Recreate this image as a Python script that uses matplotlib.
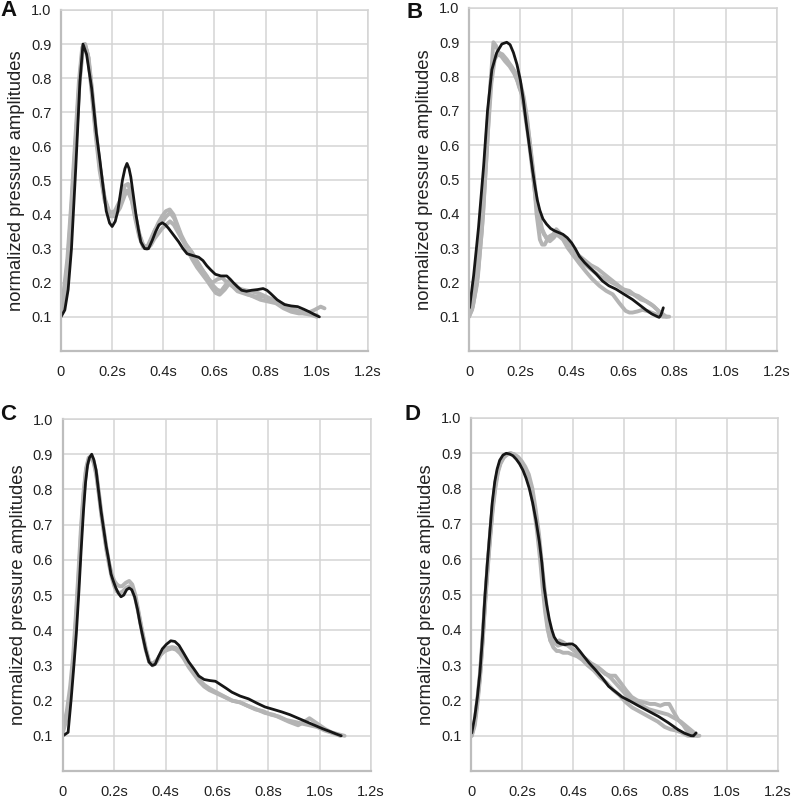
import matplotlib
matplotlib.use("Agg")
import matplotlib.pyplot as plt

plt.rcParams['font.family'] = ['Liberation Sans', 'DejaVu Sans']

# ---------------- data ----------------
# Panel A
a_black_t = [0, 0.015, 0.028, 0.041, 0.058, 0.074, 0.086, 0.10, 0.12, 0.138, 0.152, 0.164, 0.177, 0.19, 0.2, 0.212, 0.222, 0.232, 0.24, 0.25, 0.258, 0.266, 0.273, 0.283, 0.293, 0.303, 0.312, 0.327, 0.342, 0.357, 0.37, 0.383, 0.396, 0.408, 0.42, 0.44, 0.46, 0.477, 0.493, 0.515, 0.538, 0.555, 0.57, 0.585, 0.603, 0.625, 0.648, 0.662, 0.674, 0.69, 0.706, 0.725, 0.745, 0.768, 0.79, 0.805, 0.82, 0.845, 0.874, 0.9, 0.925, 0.95, 0.97, 0.99, 1.01]
a_black_y = [0.1, 0.12, 0.18, 0.3, 0.54, 0.79, 0.9, 0.87, 0.77, 0.64, 0.56, 0.485, 0.41, 0.375, 0.365, 0.38, 0.41, 0.46, 0.5, 0.535, 0.55, 0.535, 0.51, 0.455, 0.4, 0.355, 0.32, 0.3, 0.30, 0.325, 0.35, 0.37, 0.376, 0.37, 0.36, 0.34, 0.32, 0.3, 0.285, 0.28, 0.275, 0.265, 0.25, 0.238, 0.225, 0.22, 0.22, 0.21, 0.2, 0.188, 0.178, 0.175, 0.178, 0.18, 0.183, 0.178, 0.168, 0.15, 0.136, 0.132, 0.13, 0.122, 0.115, 0.107, 0.1]

a_gray1_t = [0, 0.01, 0.025, 0.04, 0.055, 0.07, 0.083, 0.093, 0.105, 0.12, 0.135, 0.15, 0.17, 0.19, 0.21, 0.23, 0.25, 0.262, 0.275, 0.29, 0.305, 0.32, 0.335, 0.35, 0.365, 0.38, 0.395, 0.41, 0.425, 0.44, 0.455, 0.47, 0.49, 0.51, 0.53, 0.55, 0.57, 0.59, 0.61, 0.625, 0.64, 0.655, 0.67, 0.69, 0.71, 0.73, 0.76, 0.79, 0.82, 0.85, 0.88, 0.91, 0.94, 0.97, 1.0]
a_gray1_y = [0.12, 0.17, 0.27, 0.43, 0.61, 0.79, 0.89, 0.9, 0.87, 0.77, 0.65, 0.55, 0.45, 0.405, 0.41, 0.44, 0.485, 0.49, 0.46, 0.40, 0.345, 0.31, 0.30, 0.32, 0.35, 0.375, 0.395, 0.41, 0.415, 0.4, 0.37, 0.34, 0.31, 0.29, 0.26, 0.24, 0.22, 0.195, 0.18, 0.175, 0.19, 0.205, 0.19, 0.175, 0.17, 0.165, 0.16, 0.16, 0.15, 0.14, 0.13, 0.12, 0.115, 0.11, 0.105]

a_gray2_t = [0, 0.012, 0.027, 0.042, 0.057, 0.072, 0.085, 0.095, 0.108, 0.122, 0.137, 0.152, 0.172, 0.192, 0.212, 0.232, 0.252, 0.265, 0.278, 0.292, 0.307, 0.322, 0.337, 0.352, 0.367, 0.382, 0.397, 0.412, 0.427, 0.442, 0.457, 0.472, 0.492, 0.512, 0.532, 0.552, 0.572, 0.59, 0.605, 0.62, 0.64, 0.66, 0.68, 0.7, 0.72, 0.75, 0.78, 0.81, 0.84, 0.87, 0.9, 0.93, 0.96, 0.99, 1.015, 1.03]
a_gray2_y = [0.11, 0.15, 0.25, 0.41, 0.6, 0.78, 0.88, 0.895, 0.86, 0.76, 0.64, 0.54, 0.44, 0.4, 0.4, 0.43, 0.47, 0.47, 0.44, 0.39, 0.34, 0.31, 0.305, 0.33, 0.355, 0.37, 0.38, 0.395, 0.405, 0.39, 0.36, 0.33, 0.30, 0.27, 0.245, 0.225, 0.205, 0.185, 0.17, 0.165, 0.18, 0.2, 0.195, 0.18, 0.17, 0.16, 0.15, 0.145, 0.14, 0.125, 0.115, 0.11, 0.11, 0.12, 0.13, 0.125]

a_gray3_t = [0, 0.012, 0.026, 0.041, 0.056, 0.071, 0.084, 0.094, 0.107, 0.121, 0.136, 0.151, 0.171, 0.191, 0.211, 0.231, 0.251, 0.264, 0.277, 0.291, 0.306, 0.321, 0.336, 0.351, 0.366, 0.381, 0.396, 0.411, 0.426, 0.441, 0.456, 0.471, 0.491, 0.511, 0.531, 0.551, 0.571, 0.591, 0.611, 0.63, 0.65, 0.67, 0.69, 0.71, 0.74, 0.77, 0.8, 0.83, 0.86, 0.89, 0.92, 0.95, 0.98, 1.0]
a_gray3_y = [0.11, 0.16, 0.26, 0.42, 0.6, 0.78, 0.885, 0.9, 0.86, 0.75, 0.63, 0.53, 0.44, 0.395, 0.395, 0.42, 0.46, 0.465, 0.44, 0.385, 0.335, 0.305, 0.3, 0.31, 0.33, 0.345, 0.36, 0.37, 0.38, 0.37, 0.35, 0.33, 0.31, 0.29, 0.265, 0.24, 0.215, 0.2, 0.21, 0.215, 0.2, 0.19, 0.185, 0.18, 0.175, 0.17, 0.16, 0.15, 0.14, 0.13, 0.12, 0.11, 0.105, 0.1]

# Panel B
b_black_t = [0.002, 0.018, 0.037, 0.057, 0.072, 0.089, 0.108, 0.128, 0.147, 0.16, 0.173, 0.187, 0.2, 0.212, 0.222, 0.232, 0.24, 0.248, 0.257, 0.266, 0.276, 0.288, 0.302, 0.318, 0.334, 0.35, 0.366, 0.383, 0.4, 0.415, 0.43, 0.45, 0.47, 0.495, 0.52, 0.545, 0.573, 0.605, 0.637, 0.663, 0.689, 0.712, 0.734, 0.741, 0.747, 0.752, 0.757]
b_black_y = [0.126, 0.22, 0.36, 0.54, 0.70, 0.82, 0.87, 0.895, 0.9, 0.893, 0.87, 0.835, 0.79, 0.73, 0.67, 0.615, 0.57, 0.525, 0.48, 0.44, 0.41, 0.385, 0.37, 0.357, 0.35, 0.345, 0.34, 0.33, 0.315, 0.297, 0.276, 0.258, 0.243, 0.225, 0.204, 0.19, 0.18, 0.165, 0.15, 0.135, 0.12, 0.108, 0.1, 0.098, 0.104, 0.114, 0.126]

b_gray1_t = [0, 0.012, 0.03, 0.05, 0.07, 0.083, 0.095, 0.105, 0.115, 0.13, 0.147, 0.165, 0.18, 0.195, 0.205, 0.218, 0.23, 0.24, 0.25, 0.257, 0.263, 0.27, 0.276, 0.285, 0.295, 0.305, 0.315, 0.328, 0.34, 0.353, 0.366, 0.385, 0.405, 0.43, 0.457, 0.48, 0.508, 0.535, 0.56, 0.585, 0.61, 0.625, 0.637, 0.655, 0.676, 0.7, 0.728, 0.755, 0.78]
b_gray1_y = [0.1, 0.12, 0.19, 0.35, 0.59, 0.77, 0.9, 0.89, 0.87, 0.86, 0.845, 0.83, 0.81, 0.77, 0.75, 0.69, 0.63, 0.57, 0.51, 0.46, 0.4, 0.36, 0.325, 0.31, 0.31, 0.325, 0.335, 0.34, 0.355, 0.345, 0.33, 0.31, 0.28, 0.255, 0.23, 0.21, 0.19, 0.175, 0.165, 0.14, 0.117, 0.112, 0.112, 0.115, 0.12, 0.115, 0.107, 0.1, 0.1]

b_gray2_t = [0, 0.015, 0.035, 0.055, 0.072, 0.087, 0.1, 0.115, 0.13, 0.147, 0.165, 0.182, 0.2, 0.213, 0.226, 0.238, 0.25, 0.26, 0.27, 0.28, 0.292, 0.305, 0.32, 0.335, 0.35, 0.366, 0.385, 0.405, 0.43, 0.455, 0.48, 0.505, 0.53, 0.555, 0.58, 0.6, 0.625, 0.65, 0.67, 0.69, 0.712, 0.734, 0.755, 0.77]
b_gray2_y = [0.1, 0.13, 0.22, 0.4, 0.62, 0.78, 0.85, 0.87, 0.865, 0.85, 0.83, 0.81, 0.78, 0.74, 0.68, 0.6, 0.51, 0.44, 0.39, 0.36, 0.34, 0.33, 0.33, 0.34, 0.335, 0.325, 0.3, 0.28, 0.265, 0.25, 0.235, 0.22, 0.21, 0.2, 0.19, 0.18, 0.175, 0.16, 0.15, 0.145, 0.135, 0.12, 0.105, 0.1]

b_gray3_t = [0, 0.014, 0.032, 0.052, 0.07, 0.085, 0.098, 0.11, 0.125, 0.14, 0.158, 0.175, 0.19, 0.205, 0.22, 0.235, 0.248, 0.26, 0.272, 0.285, 0.3, 0.315, 0.33, 0.345, 0.36, 0.38, 0.4, 0.425, 0.45, 0.475, 0.5, 0.525, 0.55, 0.575, 0.6, 0.62, 0.64, 0.66, 0.68, 0.7, 0.72, 0.74, 0.76]
b_gray3_y = [0.11, 0.14, 0.24, 0.43, 0.64, 0.79, 0.855, 0.865, 0.86, 0.845, 0.83, 0.81, 0.785, 0.75, 0.7, 0.62, 0.54, 0.46, 0.4, 0.355, 0.33, 0.32, 0.33, 0.345, 0.34, 0.32, 0.3, 0.28, 0.265, 0.25, 0.24, 0.225, 0.21, 0.195, 0.18, 0.17, 0.165, 0.16, 0.15, 0.14, 0.13, 0.115, 0.105]

# Panel C
c_black_t = [0, 0.02, 0.032, 0.042, 0.052, 0.062, 0.071, 0.08, 0.088, 0.096, 0.103, 0.112, 0.12, 0.129, 0.138, 0.148, 0.158, 0.168, 0.178, 0.187, 0.196, 0.206, 0.216, 0.226, 0.237, 0.248, 0.258, 0.268, 0.279, 0.29, 0.3, 0.31, 0.322, 0.335, 0.347, 0.359, 0.372, 0.387, 0.403, 0.42, 0.436, 0.452, 0.47, 0.49, 0.51, 0.529, 0.55, 0.572, 0.594, 0.615, 0.636, 0.658, 0.69, 0.723, 0.755, 0.787, 0.82, 0.852, 0.884, 0.916, 0.948, 0.98, 1.012, 1.045, 1.065, 1.084]
c_black_y = [0.1, 0.11, 0.205, 0.295, 0.39, 0.51, 0.63, 0.74, 0.82, 0.87, 0.89, 0.9, 0.885, 0.855, 0.8, 0.74, 0.69, 0.64, 0.6, 0.56, 0.54, 0.52, 0.505, 0.495, 0.5, 0.515, 0.52, 0.515, 0.495, 0.46, 0.42, 0.385, 0.345, 0.31, 0.3, 0.303, 0.325, 0.347, 0.36, 0.37, 0.368, 0.357, 0.335, 0.31, 0.29, 0.27, 0.26, 0.257, 0.255, 0.245, 0.235, 0.224, 0.213, 0.205, 0.193, 0.182, 0.175, 0.168, 0.16, 0.15, 0.14, 0.13, 0.12, 0.111, 0.105, 0.1]

c_gray1_t = [0, 0.015, 0.028, 0.04, 0.05, 0.06, 0.07, 0.08, 0.09, 0.1, 0.11, 0.12, 0.13, 0.14, 0.15, 0.16, 0.17, 0.18, 0.19, 0.2, 0.21, 0.22, 0.23, 0.245, 0.258, 0.27, 0.282, 0.295, 0.308, 0.322, 0.336, 0.35, 0.365, 0.38, 0.395, 0.41, 0.425, 0.44, 0.455, 0.47, 0.49, 0.51, 0.53, 0.55, 0.57, 0.594, 0.62, 0.658, 0.69, 0.72, 0.755, 0.787, 0.82, 0.85, 0.88, 0.916, 0.94, 0.96, 0.98, 1.0, 1.02, 1.045, 1.07, 1.097]
c_gray1_y = [0.12, 0.17, 0.24, 0.33, 0.44, 0.56, 0.69, 0.79, 0.86, 0.89, 0.895, 0.88, 0.845, 0.79, 0.73, 0.68, 0.63, 0.59, 0.56, 0.54, 0.53, 0.525, 0.525, 0.535, 0.54, 0.53, 0.5, 0.45, 0.4, 0.35, 0.31, 0.305, 0.315, 0.33, 0.345, 0.35, 0.352, 0.35, 0.34, 0.325, 0.3, 0.28, 0.26, 0.245, 0.235, 0.225, 0.215, 0.2, 0.195, 0.185, 0.175, 0.165, 0.16, 0.15, 0.14, 0.13, 0.14, 0.15, 0.14, 0.13, 0.12, 0.11, 0.105, 0.1]

c_gray2_t = [0, 0.015, 0.028, 0.04, 0.05, 0.06, 0.07, 0.08, 0.09, 0.1, 0.11, 0.12, 0.13, 0.14, 0.15, 0.16, 0.17, 0.18, 0.19, 0.2, 0.21, 0.22, 0.232, 0.245, 0.258, 0.27, 0.282, 0.295, 0.308, 0.322, 0.336, 0.35, 0.365, 0.38, 0.395, 0.41, 0.425, 0.44, 0.455, 0.47, 0.49, 0.51, 0.53, 0.55, 0.57, 0.6, 0.63, 0.66, 0.69, 0.72, 0.75, 0.78, 0.81, 0.84, 0.87, 0.9, 0.93, 0.96, 0.99, 1.02, 1.05, 1.08]
c_gray2_y = [0.11, 0.15, 0.22, 0.31, 0.42, 0.54, 0.67, 0.78, 0.855, 0.885, 0.89, 0.875, 0.84, 0.785, 0.725, 0.675, 0.625, 0.585, 0.55, 0.525, 0.51, 0.505, 0.51, 0.52, 0.525, 0.515, 0.49, 0.445, 0.395, 0.345, 0.31, 0.3, 0.31, 0.33, 0.34, 0.345, 0.348, 0.345, 0.335, 0.32, 0.295, 0.275, 0.255, 0.24, 0.23, 0.22, 0.21, 0.2, 0.195, 0.185, 0.175, 0.17, 0.16, 0.155, 0.145, 0.14, 0.135, 0.13, 0.125, 0.115, 0.108, 0.1]

# Panel D
d_black_t = [0.003, 0.015, 0.025, 0.035, 0.045, 0.054, 0.064, 0.074, 0.083, 0.093, 0.102, 0.112, 0.125, 0.138, 0.151, 0.164, 0.177, 0.19, 0.203, 0.215, 0.228, 0.241, 0.254, 0.267, 0.277, 0.286, 0.296, 0.306, 0.316, 0.325, 0.338, 0.351, 0.367, 0.383, 0.396, 0.409, 0.425, 0.441, 0.463, 0.486, 0.512, 0.538, 0.564, 0.59, 0.622, 0.654, 0.693, 0.732, 0.771, 0.81, 0.835, 0.86, 0.87, 0.88]
d_black_y = [0.108, 0.155, 0.21, 0.28, 0.38, 0.49, 0.59, 0.68, 0.76, 0.82, 0.855, 0.88, 0.895, 0.9, 0.898, 0.893, 0.883, 0.87, 0.852, 0.83, 0.8, 0.76, 0.71, 0.65, 0.59, 0.52, 0.47, 0.43, 0.4, 0.38, 0.365, 0.36, 0.358, 0.36, 0.36, 0.354, 0.34, 0.325, 0.305, 0.287, 0.265, 0.24, 0.225, 0.21, 0.198, 0.185, 0.17, 0.155, 0.137, 0.117, 0.107, 0.1, 0.1, 0.108]

d_gray1_t = [0.003, 0.015, 0.025, 0.035, 0.045, 0.055, 0.065, 0.075, 0.085, 0.095, 0.105, 0.115, 0.128, 0.141, 0.154, 0.167, 0.18, 0.193, 0.206, 0.219, 0.232, 0.245, 0.258, 0.27, 0.28, 0.29, 0.3, 0.31, 0.32, 0.333, 0.345, 0.36, 0.38, 0.396, 0.415, 0.435, 0.455, 0.475, 0.5, 0.525, 0.545, 0.564, 0.585, 0.605, 0.628, 0.65, 0.675, 0.7, 0.719, 0.74, 0.757, 0.775, 0.79, 0.81, 0.83, 0.85, 0.87, 0.893]
d_gray1_y = [0.1, 0.14, 0.2, 0.27, 0.37, 0.48, 0.58, 0.67, 0.75, 0.81, 0.85, 0.875, 0.89, 0.898, 0.9, 0.895, 0.885, 0.87, 0.855, 0.835, 0.8, 0.75, 0.68, 0.6, 0.52, 0.45, 0.4, 0.37, 0.36, 0.365, 0.37, 0.365, 0.355, 0.345, 0.335, 0.32, 0.31, 0.3, 0.29, 0.275, 0.27, 0.27, 0.25, 0.23, 0.21, 0.2, 0.195, 0.19, 0.19, 0.185, 0.19, 0.19, 0.17, 0.145, 0.13, 0.108, 0.1, 0.1]

d_gray2_t = [0.003, 0.015, 0.025, 0.035, 0.045, 0.055, 0.065, 0.075, 0.085, 0.095, 0.105, 0.115, 0.128, 0.141, 0.154, 0.167, 0.18, 0.193, 0.206, 0.219, 0.232, 0.245, 0.258, 0.27, 0.28, 0.29, 0.3, 0.31, 0.322, 0.335, 0.345, 0.36, 0.38, 0.396, 0.415, 0.435, 0.455, 0.48, 0.505, 0.53, 0.555, 0.58, 0.605, 0.63, 0.655, 0.68, 0.705, 0.73, 0.757, 0.78, 0.8, 0.82, 0.847, 0.87]
d_gray2_y = [0.1, 0.13, 0.19, 0.26, 0.36, 0.47, 0.57, 0.66, 0.74, 0.8, 0.845, 0.87, 0.888, 0.896, 0.9, 0.897, 0.888, 0.875, 0.86, 0.84, 0.81, 0.76, 0.7, 0.62, 0.55, 0.47, 0.41, 0.37, 0.35, 0.34, 0.34, 0.335, 0.335, 0.33, 0.325, 0.315, 0.3, 0.285, 0.265, 0.25, 0.23, 0.215, 0.195, 0.18, 0.17, 0.16, 0.15, 0.14, 0.125, 0.118, 0.115, 0.11, 0.1, 0.1]

d_gray3_t = [0.003, 0.015, 0.025, 0.035, 0.045, 0.055, 0.065, 0.075, 0.085, 0.095, 0.105, 0.117, 0.13, 0.143, 0.156, 0.17, 0.184, 0.198, 0.212, 0.226, 0.24, 0.253, 0.266, 0.278, 0.29, 0.3, 0.312, 0.325, 0.34, 0.36, 0.38, 0.4, 0.42, 0.445, 0.47, 0.495, 0.52, 0.545, 0.57, 0.595, 0.62, 0.645, 0.67, 0.695, 0.72, 0.745, 0.77, 0.795, 0.82, 0.845, 0.87, 0.885]
d_gray3_y = [0.105, 0.145, 0.205, 0.275, 0.375, 0.485, 0.585, 0.675, 0.755, 0.815, 0.852, 0.877, 0.892, 0.898, 0.9, 0.897, 0.89, 0.878, 0.862, 0.84, 0.8, 0.74, 0.67, 0.58, 0.5, 0.44, 0.39, 0.365, 0.355, 0.36, 0.355, 0.345, 0.33, 0.32, 0.305, 0.295, 0.28, 0.265, 0.245, 0.225, 0.205, 0.195, 0.185, 0.175, 0.17, 0.165, 0.16, 0.15, 0.14, 0.125, 0.11, 0.1]

panel_labels = ["A", "B", "C", "D"]
y_ticks = [0.1, 0.2, 0.3, 0.4, 0.5, 0.6, 0.7, 0.8, 0.9, 1.0]
y_tick_labels = ["0.1", "0.2", "0.3", "0.4", "0.5", "0.6", "0.7", "0.8", "0.9", "1.0"]
x_ticks = [0, 0.2, 0.4, 0.6, 0.8, 1.0, 1.2]
x_tick_labels = ["0", "0.2s", "0.4s", "0.6s", "0.8s", "1.0s", "1.2s"]
y_label = "normalized pressure amplitudes"

panels = [
    dict(black=(a_black_t, a_black_y),
         grays=[(a_gray1_t, a_gray1_y), (a_gray2_t, a_gray2_y), (a_gray3_t, a_gray3_y)]),
    dict(black=(b_black_t, b_black_y),
         grays=[(b_gray1_t, b_gray1_y), (b_gray2_t, b_gray2_y), (b_gray3_t, b_gray3_y)]),
    dict(black=(c_black_t, c_black_y),
         grays=[(c_gray1_t, c_gray1_y), (c_gray2_t, c_gray2_y)]),
    dict(black=(d_black_t, d_black_y),
         grays=[(d_gray1_t, d_gray1_y), (d_gray2_t, d_gray2_y), (d_gray3_t, d_gray3_y)]),
]

# axes rectangles in figure fractions [left, bottom, width, height]
rects = [
    [0.0768, 0.5602, 0.3867, 0.4273],
    [0.5907, 0.5602, 0.3879, 0.4298],
    [0.0793, 0.0338, 0.3880, 0.4411],
    [0.5932, 0.0338, 0.3866, 0.4424],
]
# panel letter positions (pixels from top-left: x, y-center)
letter_pos = [(0, 11), (406, 12), (0, 414), (405, 415)]

GRID = "#d4d4d4"
GRAY = "#b4b4b4"
BLACK = "#161616"

W, H = 794, 798
fig = plt.figure(figsize=(W / 100, H / 100), dpi=100)
for i, (p, r) in enumerate(zip(panels, rects)):
    ax = fig.add_axes(r)
    ax.set_xlim(0, 1.2)
    ax.set_ylim(0, 1.0)
    ax.set_xticks(x_ticks)
    ax.set_xticklabels(x_tick_labels)
    ax.set_yticks(y_ticks)
    ax.set_yticklabels(y_tick_labels)
    ax.grid(True, color=GRID, linewidth=1.1)
    ax.set_axisbelow(True)
    for s in ["top", "right"]:
        ax.spines[s].set_color(GRID)
        ax.spines[s].set_linewidth(1.1)
    for s in ["left", "bottom"]:
        ax.spines[s].set_color("#bdbdbd")
        ax.spines[s].set_linewidth(1.6)
    ax.tick_params(length=0, labelsize=10.5, colors="#222222")
    ax.tick_params(axis="y", pad=7)
    ax.tick_params(axis="x", pad=10)
    for gt, gy in p["grays"]:
        ax.plot(gt, gy, color=GRAY, linewidth=2.8, solid_joinstyle="round", solid_capstyle="round")
    bt, by = p["black"]
    ax.plot(bt, by, color=BLACK, linewidth=2.0, solid_joinstyle="round", solid_capstyle="round")
    ax.set_ylabel(y_label, fontsize=13.2, labelpad=4, color="#222222")
    lx, ly = letter_pos[i]
    fig.text(lx / W, 1 - ly / H, panel_labels[i], fontsize=16, fontweight="bold",
             ha="left", va="center", color="#111111")

fig.savefig("out.png", dpi=100)
